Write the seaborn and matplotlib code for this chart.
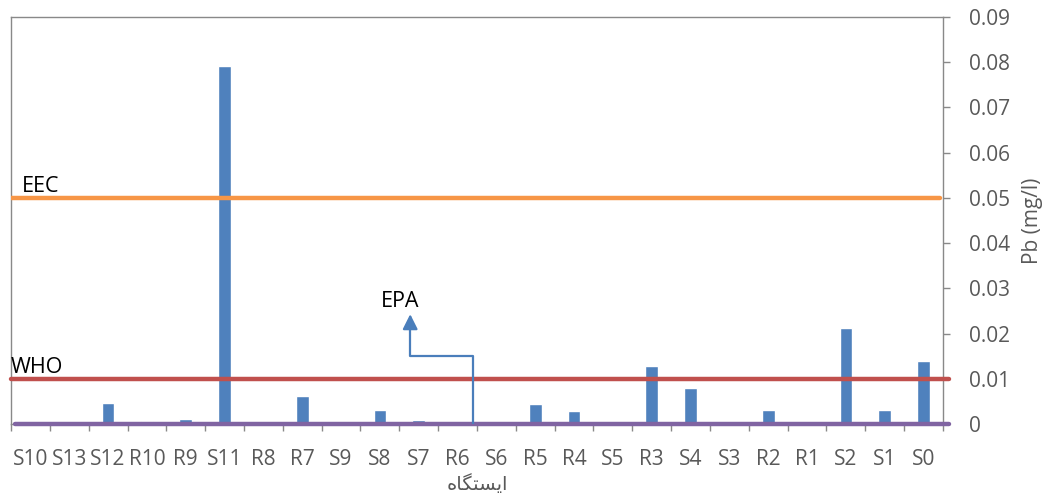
import numpy as np
import pandas as pd
import matplotlib
matplotlib.use("Agg")
import matplotlib.pyplot as plt
from matplotlib.ticker import FixedLocator
import seaborn as sns

# datos
estaciones = ["S10", "S13", "S12", "R10", "R9", "S11", "R8", "R7", "S9", "S8", "S7", "R6",
              "S6", "R5", "R4", "S5", "R3", "S4", "S3", "R2", "R1", "S2", "S1", "S0"]
pb = [0, 0, 0.0046, 0.0007, 0.001, 0.0792, 0, 0.0062, 0, 0.003, 0.0008, 0,
      0, 0.0045, 0.0028, 0, 0.0128, 0.008, 0, 0.003, 0, 0.0212, 0.003, 0.0139]
limites = {"EEC": 0.05, "WHO": 0.01, "EPA": 0.0}
y_ticks = [0, 0.01, 0.02, 0.03, 0.04, 0.05, 0.06, 0.07, 0.08, 0.09]
y_ticklabels = ["0", "0.01", "0.02", "0.03", "0.04", "0.05", "0.06", "0.07", "0.08", "0.09"]
# "ایستگاه" en formas de presentacion (matplotlib no une letras arabes)
xlabel = "\uFEE9\uFE8E\uFB95\uFE98\uFEB4\uFBFE\uFE8D"

sns.set_style("white")
plt.rcParams["font.family"] = ["Open Sans", "DejaVu Sans"]

gris = "#595959"
df = pd.DataFrame({"estacion": estaciones, "pb": pb})

fig = plt.figure(figsize=(10.48, 5.04), dpi=100)
ax = fig.add_axes([0.0105, 0.1587, 0.8893, 0.8076])

sns.barplot(data=df, x="estacion", y="pb", color="#4F81BD", saturation=1,
            width=0.33, ax=ax)

# lineas de limites
ax.axhline(limites["EEC"], xmin=0.0, xmax=0.997, color="#F79646", lw=3.2, zorder=3)
ax.axhline(limites["WHO"], xmin=0.0, xmax=1.006, color="#C0504D", lw=3.2, zorder=3,
           clip_on=False)
ax.axhline(limites["EPA"], xmin=0.004, xmax=1.006, color="#8064A2", lw=3.2, zorder=3,
           clip_on=False)

ax.text(-0.22, limites["EEC"] + 0.0012, "EEC", fontsize=15.5, color="black")
ax.text(-0.5, limites["WHO"] + 0.0012, "WHO", fontsize=15.5, color="black")

# flecha EPA
ax.plot([11.4, 11.4, 9.78, 9.78], [0.0, 0.01504, 0.01504, 0.0225],
        color="#4A7EBB", lw=1.6, zorder=4)
ax.annotate("", xy=(9.78, 0.0249), xytext=(9.78, 0.0222),
            arrowprops=dict(arrowstyle="-|>,head_length=0.9,head_width=0.45",
                            color="#4A7EBB", lw=1.6))
ax.text(9.52, 0.0272, "EPA", fontsize=15.5, color="black", ha="center", va="center")

ax.set_xlim(-0.5, len(estaciones) - 0.5)
ax.set_ylim(0, 0.09)

ax.yaxis.tick_right()
ax.yaxis.set_label_position("right")
ax.set_yticks(y_ticks)
ax.set_yticklabels(y_ticklabels, fontsize=15, color=gris)
ax.tick_params(axis="y", right=True, length=5, width=1, color="#898989", pad=14)

ax.set_xticks(range(len(estaciones)))
ax.set_xticklabels(estaciones, fontsize=15, color=gris)
ax.tick_params(axis="x", which="major", length=0, pad=18)
ax.xaxis.set_minor_locator(FixedLocator(np.arange(-0.5, len(estaciones), 1.0)))
ax.tick_params(axis="x", which="minor", bottom=True, length=5, width=1, color="#898989")

ax.set_xlabel(xlabel, fontsize=14, color=gris, labelpad=3)
ax.set_ylabel("Pb (mg/l)", fontsize=15, color=gris, labelpad=8)

for lado in ["left", "right", "top", "bottom"]:
    ax.spines[lado].set_visible(True)
    ax.spines[lado].set_color("#898989")
    ax.spines[lado].set_linewidth(1)

fig.savefig("out.png", dpi=100)
